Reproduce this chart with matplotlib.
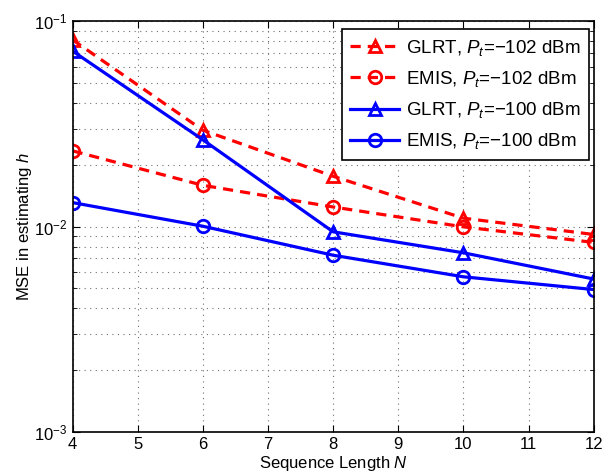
import numpy as np
import matplotlib
matplotlib.use('Agg')
import matplotlib.pyplot as plt
from matplotlib.ticker import LogLocator, NullFormatter

plt.rcParams['font.family'] = 'Liberation Sans'
plt.rcParams['mathtext.fontset'] = 'custom'
plt.rcParams['mathtext.rm'] = 'Liberation Sans'
plt.rcParams['mathtext.it'] = 'Liberation Sans:italic'
plt.rcParams['font.size'] = 12

# data
N = [4, 6, 8, 10, 12]
glrt_102 = [0.0813, 0.0295, 0.0176, 0.0110, 0.00916]
emis_102 = [0.0234, 0.0159, 0.01247, 0.00998, 0.00838]
glrt_100 = [0.0717, 0.0265, 0.00944, 0.00746, 0.00556]
emis_100 = [0.0131, 0.01005, 0.00726, 0.0057, 0.00494]

labels = ['GLRT, $P_t$=\u2212102 dBm', 'EMIS, $P_t$=\u2212102 dBm',
          'GLRT, $P_t$=\u2212100 dBm', 'EMIS, $P_t$=\u2212100 dBm']

fig = plt.figure(figsize=(6.13, 4.74), dpi=100)
ax = fig.add_axes([0.1183, 0.0886, 0.9685 - 0.1183, 0.955 - 0.0886])

kw = dict(lw=2.3, markersize=9, markerfacecolor='none', markeredgewidth=2)
ax.plot(N, glrt_102, 'r--^', label=labels[0], dashes=(3.2, 2.2), **kw)
ax.plot(N, emis_102, 'r--o', label=labels[1], dashes=(3.2, 2.2), **kw)
ax.plot(N, glrt_100, 'b-^', label=labels[2], **kw)
ax.plot(N, emis_100, 'b-o', label=labels[3], **kw)

ax.set_yscale('log')
ax.set_xlim(4, 12)
ax.set_ylim(1e-3, 1e-1)
ax.set_xticks(range(4, 13))
ax.yaxis.set_minor_locator(LogLocator(base=10, subs=np.arange(2, 10)))
ax.yaxis.set_minor_formatter(NullFormatter())
ax.tick_params(which='both', direction='in', top=True, right=True)
ax.tick_params(which='major', length=5)
ax.tick_params(which='minor', length=3)
grid_ls = (0, (1, 4))
ax.grid(True, which='major', ls=grid_ls, color='#707070', lw=0.8)
ax.grid(True, which='minor', axis='y', ls=grid_ls, color='#707070', lw=0.8)
for s in ax.spines.values():
    s.set_linewidth(1.2)

ax.set_xlabel('Sequence Length $N$', labelpad=1.5)
ax.set_ylabel('MSE in estimating $h$', labelpad=0)

leg = ax.legend(loc='upper right', bbox_to_anchor=(0.991, 0.981), fontsize=13.5,
                fancybox=False, framealpha=1, edgecolor='k',
                handlelength=2.6, labelspacing=0.6, borderaxespad=0,
                handletextpad=0.35, borderpad=0.45)
leg.get_frame().set_linewidth(1.2)

fig.savefig('out.png', dpi=100)
